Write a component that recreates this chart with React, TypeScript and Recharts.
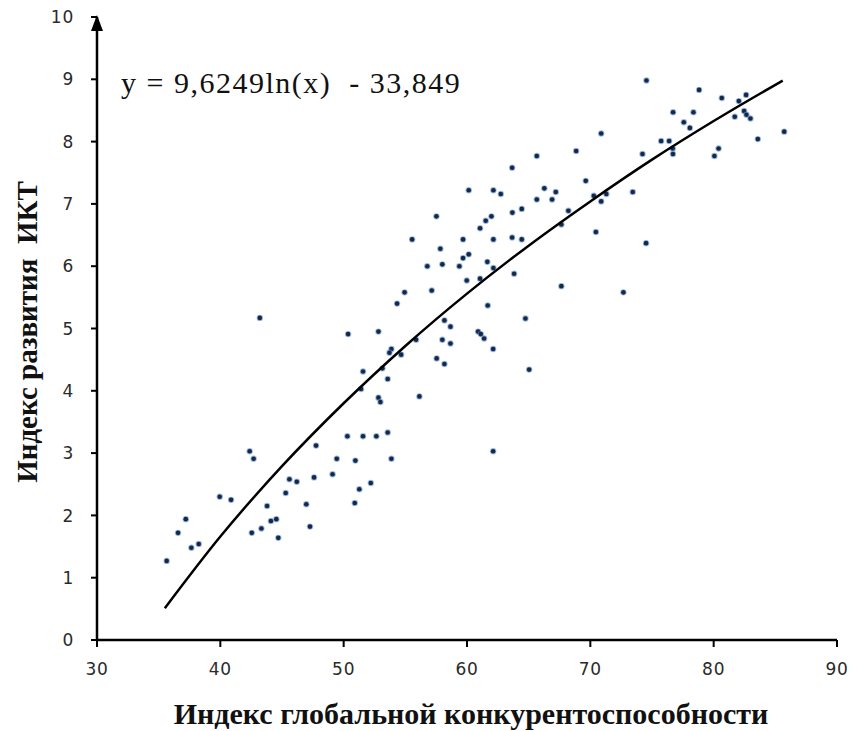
import React from "react"
import { ScatterChart, Scatter, XAxis, YAxis } from "recharts"

// Индекс глобальной конкурентоспособности (x) / Индекс развития ИКТ (y)
const gci = [
  35.65, 36.57, 37.2, 37.65, 38.25, 39.95, 40.87, 42.38, 42.7, 42.55,
  43.33, 43.79, 44.1, 44.54, 44.7, 45.3, 45.6, 46.2, 46.97, 47.27,
  47.6, 47.76, 49.1, 49.44, 50.3, 43.2, 54.33, 61.68, 64.74, 50.36,
  52.82, 58.17, 58.66, 55.87, 58.0, 58.66, 60.9, 61.12, 61.39, 62.12,
  53.87, 53.71, 54.66, 57.54, 58.17, 65.04, 51.57, 53.14, 53.57, 51.41,
  56.14, 52.82, 52.98, 51.57, 52.65, 53.57, 62.12, 50.95, 53.87, 52.2,
  51.27, 50.9, 65.66, 68.85, 74.23, 76.7, 63.66, 60.14, 62.14, 62.74,
  66.27, 67.2, 69.63, 65.66, 66.9, 73.44, 70.28, 71.3, 70.88, 57.52,
  61.98, 61.52, 63.68, 64.44, 68.22, 67.65, 61.06, 57.84, 59.68, 62.14,
  63.66, 64.44, 70.45, 74.52, 59.68, 60.14, 58.0, 59.38, 61.65, 62.14,
  56.78, 63.82, 59.98, 61.06, 57.14, 67.65, 72.68, 55.55, 54.94, 74.55,
  78.82, 80.66, 82.63, 82.04, 82.47, 82.66, 82.98, 81.71, 76.71, 78.36,
  77.58, 78.07, 70.88, 85.72, 83.58, 75.74, 76.39, 76.68, 80.4, 80.06,
]
const ict = [
  1.27, 1.72, 1.94, 1.48, 1.54, 2.3, 2.25, 3.03, 2.91, 1.72,
  1.79, 2.15, 1.91, 1.94, 1.64, 2.36, 2.58, 2.54, 2.18, 1.82,
  2.61, 3.12, 2.66, 2.91, 3.27, 5.17, 5.4, 5.37, 5.16, 4.91,
  4.95, 5.13, 5.03, 4.82, 4.82, 4.76, 4.95, 4.91, 4.84, 4.67,
  4.67, 4.61, 4.58, 4.52, 4.43, 4.34, 4.31, 4.36, 4.19, 4.03,
  3.91, 3.89, 3.82, 3.27, 3.27, 3.33, 3.03, 2.88, 2.91, 2.52,
  2.42, 2.2, 7.77, 7.85, 7.8, 7.8, 7.58, 7.22, 7.22, 7.16,
  7.25, 7.19, 7.37, 7.07, 7.07, 7.19, 7.13, 7.16, 7.04, 6.8,
  6.8, 6.73, 6.86, 6.92, 6.89, 6.67, 6.61, 6.28, 6.43, 6.43,
  6.46, 6.43, 6.55, 6.37, 6.13, 6.19, 6.03, 6.0, 6.07, 5.97,
  6.0, 5.88, 5.77, 5.8, 5.61, 5.68, 5.58, 6.43, 5.58, 8.98,
  8.83, 8.7, 8.75, 8.65, 8.49, 8.43, 8.37, 8.4, 8.47, 8.47,
  8.31, 8.22, 8.13, 8.16, 8.04, 8.01, 8.01, 7.89, 7.89, 7.77,
]

// logarithmic trend line
const trendX = [35.5, 40, 45, 50, 55, 60, 65, 70, 75, 80, 85.6]
const trendY = [0.51, 1.66, 2.79, 3.8, 4.72, 5.56, 6.33, 7.04, 7.71, 8.33, 8.98]

const xTicks = [30, 40, 50, 60, 70, 80, 90]
const yTicks = [0, 1, 2, 3, 4, 5, 6, 7, 8, 9, 10]

const points = gci.map((x, i) => ({ x, y: ict[i] }))
const trend = trendX.map((x, i) => ({ x, y: trendY[i] }))

const tickFont = "DejaVu Sans, Verdana, sans-serif"
const titleFont = "Liberation Serif, Times New Roman, serif"

const XTick = ({ x, y, payload }: any) => (
  <text x={x} y={y} dy="0.71em" textAnchor="middle" fontFamily={tickFont} fontSize={17} letterSpacing={0.8} fill="#2a2a2a">
    {payload.value}
  </text>
)

const YTick = ({ x, y, payload }: any) => (
  <text x={x} y={y} dy="0.36em" textAnchor="end" fontFamily={tickFont} fontSize={17} letterSpacing={0.8} fill="#2a2a2a">
    {payload.value}
  </text>
)

const Dot = (props: any) => {
  const { cx, cy } = props
  return (
    <g>
      <circle cx={cx} cy={cy} r={3.2} fill="#5b8cc8" opacity={0.6} />
      <circle cx={cx} cy={cy} r={2.3} fill="#14284a" />
    </g>
  )
}

const NoDot = () => null

const YAxisDecor = (props: any) => {
  const { viewBox } = props
  const ax = viewBox.x + viewBox.width
  const top = viewBox.y
  return (
    <g>
      <polygon points={`${ax},${top - 2} ${ax - 6},${top + 14} ${ax + 6},${top + 14}`} fill="#000" />
      <text
        x={27}
        y={332}
        transform="rotate(-90, 27, 332)"
        textAnchor="middle"
        dominantBaseline="central"
        fontFamily={titleFont}
        fontWeight="bold"
        fontSize={29}
        fill="#111"
        style={{ whiteSpace: "pre" }}
      >
        {"Индекс развития\u00a0\u00a0ИКТ"}
      </text>
    </g>
  )
}

const XAxisTitle = () => (
  <text
    x={471}
    y={713}
    textAnchor="middle"
    dominantBaseline="central"
    fontFamily={titleFont}
    fontWeight="bold"
    fontSize={30}
    fill="#111"
  >
    Индекс глобальной конкурентоспособности
  </text>
)

export default function App() {
  return (
    <div style={{ position: "absolute", left: 0, top: 0, width: 854, height: 731, background: "#fff" }}>
      <ScatterChart width={854} height={731} margin={{ top: 17, right: 17, bottom: 51, left: 37 }}>
        <XAxis
          type="number"
          dataKey="x"
          domain={[30, 90]}
          ticks={xTicks}
          height={40}
          tickSize={7}
          tickMargin={16}
          tick={XTick}
          axisLine={{ stroke: "#000", strokeWidth: 2.5 }}
          tickLine={{ stroke: "#000", strokeWidth: 2 }}
          allowDataOverflow
          label={{ content: XAxisTitle }}
        />
        <YAxis
          type="number"
          dataKey="y"
          domain={[0, 10]}
          ticks={yTicks}
          width={60}
          tickSize={6}
          tickMargin={17}
          tick={YTick}
          axisLine={{ stroke: "#000", strokeWidth: 2.5 }}
          tickLine={{ stroke: "#000", strokeWidth: 2 }}
          allowDataOverflow
          label={{ content: YAxisDecor }}
        />
        <Scatter data={points} shape={Dot} isAnimationActive={false} />
        <Scatter
          data={trend}
          shape={NoDot}
          line={{ stroke: "#000", strokeWidth: 2.5 }}
          lineJointType="monotoneX"
          isAnimationActive={false}
        />
      </ScatterChart>
      <div
        style={{
          position: "absolute",
          left: 121,
          top: 66,
          fontFamily: titleFont,
          fontSize: 30,
          letterSpacing: 1.5,
          color: "#111",
          whiteSpace: "pre",
          lineHeight: "34px",
        }}
      >
        {"y = 9,6249ln(x)  - 33,849"}
      </div>
    </div>
  )
}
